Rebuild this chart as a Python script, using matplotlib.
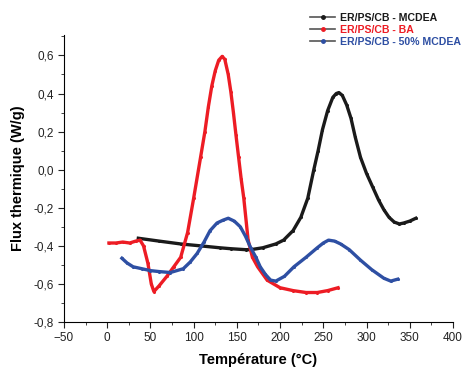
import matplotlib
matplotlib.use('Agg')
import matplotlib.pyplot as plt
from matplotlib.ticker import MultipleLocator, FuncFormatter

plt.rcParams['font.family'] = ['Liberation Sans', 'DejaVu Sans']

# ER/PS/CB - MCDEA
t_mcdea = [36, 60, 85, 108, 130, 143, 160, 166, 180, 195, 204, 215, 224, 232, 239, 244, 249, 255, 261,
           265, 268, 272, 277, 282, 287, 293, 300, 307, 314, 320, 326, 332, 338, 343, 350, 357]
f_mcdea = [-0.36, -0.375, -0.39, -0.40, -0.41, -0.415, -0.42, -0.42, -0.41, -0.39, -0.37, -0.32, -0.25,
           -0.15, 0.0, 0.10, 0.21, 0.31, 0.38, 0.40, 0.405, 0.39, 0.34, 0.27, 0.17, 0.065, -0.02, -0.09,
           -0.16, -0.21, -0.25, -0.275, -0.285, -0.28, -0.27, -0.255]

# ER/PS/CB - BA
t_ba = [2, 10, 18, 26, 33, 38, 42, 47, 51, 54, 60, 69, 77, 85, 93, 100, 108, 113, 117, 121, 125, 129,
        133, 136, 140, 143, 146, 149, 152, 155, 158, 163, 168, 174, 185, 200, 215, 230, 243, 255, 267]
f_ba = [-0.385, -0.385, -0.38, -0.385, -0.375, -0.37, -0.40, -0.49, -0.60, -0.64, -0.61, -0.56, -0.51,
        -0.46, -0.33, -0.15, 0.065, 0.20, 0.33, 0.44, 0.52, 0.575, 0.595, 0.58, 0.50, 0.41, 0.30, 0.18,
        0.065, -0.05, -0.15, -0.37, -0.46, -0.51, -0.58, -0.62, -0.635, -0.645, -0.645, -0.635, -0.62]

# ER/PS/CB - 50% MCDEA
t_50 = [17, 23, 30, 40, 50, 60, 73, 88, 96, 104, 112, 119, 127, 134, 140, 147, 154, 160, 166, 172, 177,
        183, 189, 195, 205, 216, 230, 243, 250, 256, 263, 270, 280, 293, 306, 320, 328, 336]
f_50 = [-0.465, -0.49, -0.51, -0.52, -0.53, -0.535, -0.54, -0.52, -0.485, -0.44, -0.38, -0.32, -0.28,
        -0.265, -0.255, -0.27, -0.30, -0.35, -0.41, -0.46, -0.51, -0.55, -0.58, -0.585, -0.56, -0.51,
        -0.46, -0.41, -0.385, -0.37, -0.375, -0.39, -0.42, -0.475, -0.525, -0.57, -0.585, -0.575]

colors = ['#1a1a1a', '#ed1c24', '#2e4fa3']

fig = plt.figure(figsize=(4.62, 3.71), dpi=100)
ax = fig.add_axes([0.1385, 0.132, 0.842, 0.775])

ax.plot(t_mcdea, f_mcdea, color=colors[0], lw=2.4, marker='o', ms=1.2, label='ER/PS/CB - MCDEA')
ax.plot(t_ba, f_ba, color=colors[1], lw=2.4, marker='o', ms=1.2, label='ER/PS/CB - BA')
ax.plot(t_50, f_50, color=colors[2], lw=2.4, marker='o', ms=1.2, label='ER/PS/CB - 50% MCDEA')

ax.set_xlim(-50, 400)
ax.set_ylim(-0.8, 0.71)
ax.xaxis.set_major_locator(MultipleLocator(50))
ax.xaxis.set_minor_locator(MultipleLocator(25))
ax.yaxis.set_major_locator(MultipleLocator(0.2))
ax.yaxis.set_minor_locator(MultipleLocator(0.1))
ax.yaxis.set_major_formatter(FuncFormatter(lambda v, p: f'{v:.1f}'.replace('.', ',').replace('-0,0', '0,0')))
ax.tick_params(which='both', direction='out', labelsize=8.5, colors='#222222')
ax.tick_params(which='major', length=4)
ax.tick_params(which='minor', length=2.5)
for s in ['top', 'right']:
    ax.spines[s].set_visible(False)

ax.set_xlabel('Température (°C)', fontsize=10.5, fontweight='bold', labelpad=6)
ax.set_ylabel('Flux thermique (W/g)', fontsize=10.5, fontweight='bold', labelpad=6)

leg = fig.legend(loc='upper left', bbox_to_anchor=(0.655, 0.985), frameon=False,
                 prop={'size': 7.6, 'weight': 'bold'}, handlelength=2.4, labelspacing=0.2,
                 handletextpad=0.4, borderpad=0.2)
for txt, c in zip(leg.get_texts(), colors):
    txt.set_color(c)
for h, c in zip(leg.legend_handles, colors):
    h.set_linewidth(1.2)
    h.set_color('#555555')
    h.set_markersize(2.5)
    h.set_markerfacecolor(c)
    h.set_markeredgecolor(c)

fig.savefig('out.png', dpi=100)
